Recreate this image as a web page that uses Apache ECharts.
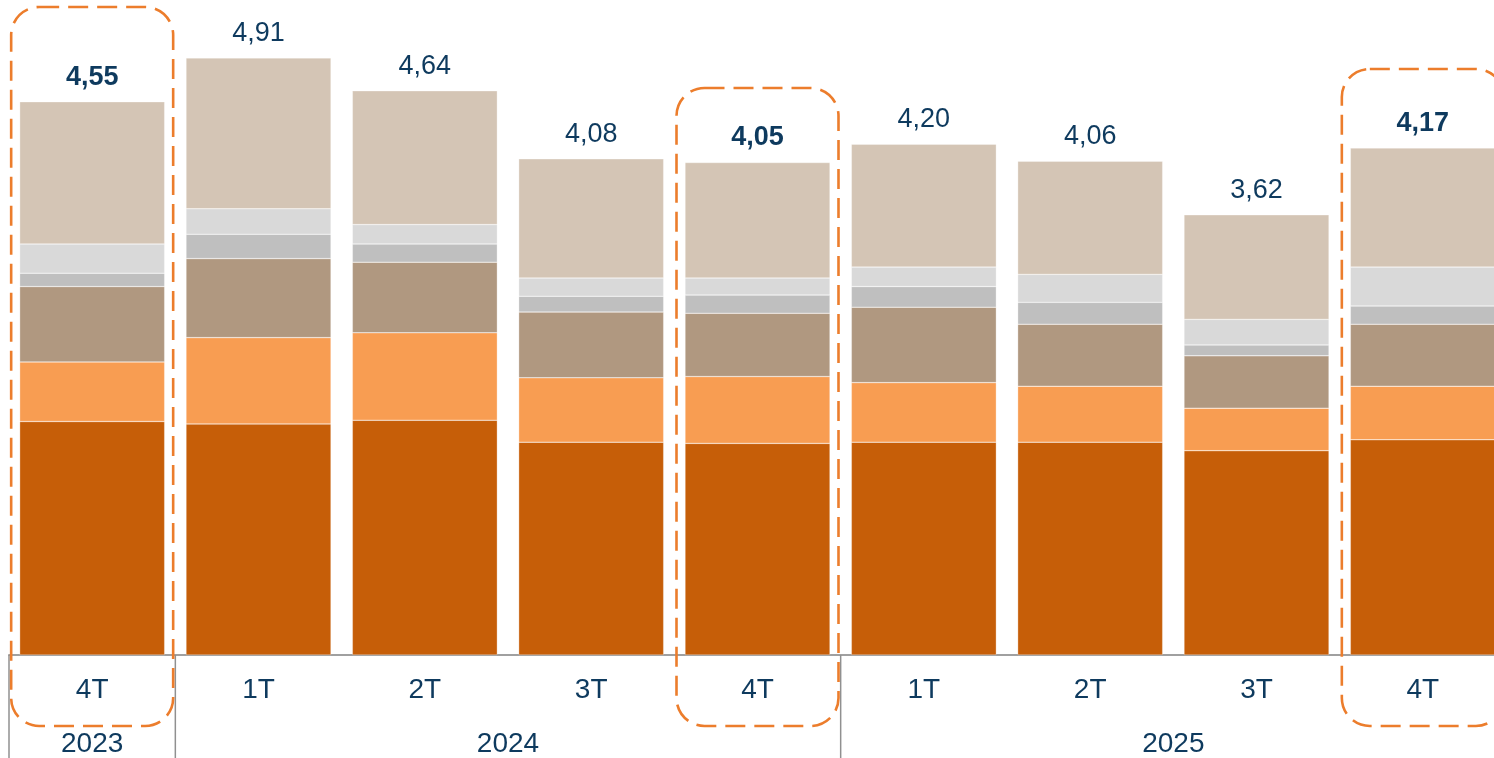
<!DOCTYPE html>
<html>
<head>
<meta charset="utf-8">
<script src="https://cdn.jsdelivr.net/npm/echarts@6/dist/echarts.min.js"></script>
<style>
  html, body { margin: 0; padding: 0; background: #fff; overflow: hidden; }
  /* a bit wider than the window: the last bar is cut at the right edge */
  #chart { width: 1506px; height: 758px; }
</style>
</head>
<body>
<div id="chart"></div>
<script>
// quarters along the axis, years grouped underneath
const quarters = ["4T", "1T", "2T", "3T", "4T", "1T", "2T", "3T", "4T"];
const years = ["2023", "2024", "2025"];
const yearFirst = [0, 1, 5];
const yearLast = [0, 4, 8];

// stacked segments, bottom to top
const seg1 = [1.92, 1.90, 1.93, 1.75, 1.74, 1.75, 1.75, 1.68, 1.77];
const seg2 = [0.49, 0.71, 0.72, 0.53, 0.55, 0.49, 0.46, 0.35, 0.44];
const seg3 = [0.62, 0.65, 0.58, 0.54, 0.52, 0.62, 0.51, 0.43, 0.51];
const seg4 = [0.11, 0.20, 0.15, 0.13, 0.15, 0.17, 0.18, 0.09, 0.15];
const seg5 = [0.24, 0.21, 0.16, 0.15, 0.14, 0.16, 0.23, 0.21, 0.32];
const seg6 = [1.17, 1.24, 1.10, 0.98, 0.95, 1.01, 0.93, 0.86, 0.98];
const totals = [4.55, 4.91, 4.64, 4.08, 4.05, 4.20, 4.06, 3.62, 4.17];

// bars framed by the dashed boxes (labels shown in bold)
const highlighted = [0, 4, 8];

const FONT = 'Arial, "Liberation Sans", sans-serif';
const NAVY = "#0E3A5E";
const colors = ["#C65E08", "#F89D52", "#B09880", "#BFBFBF", "#D9D9D9", "#D4C5B5"];
const boxTop = { 0: 7, 4: 88, 8: 69 };

const chart = echarts.init(document.getElementById("chart"));

const segs = [seg1, seg2, seg3, seg4, seg5, seg6];
const series = segs.map((vals, s) => {
  const isTop = s === segs.length - 1;
  return {
    type: "bar",
    stack: "total",
    barWidth: 145,
    itemStyle: { color: colors[s], borderColor: "rgba(255,255,255,0.6)", borderWidth: 0.5 },
    data: vals.map((v, i) => isTop ? {
      value: v,
      label: { fontWeight: highlighted.includes(i) ? "bold" : "normal" }
    } : v),
    label: isTop ? {
      show: true,
      position: "top",
      distance: 11,
      fontSize: 27,
      fontFamily: FONT,
      color: NAVY,
      formatter: p => totals[p.dataIndex].toFixed(2).replace(".", ",")
    } : { show: false },
    emphasis: { disabled: true },
    animation: false
  };
});

chart.setOption({
  animation: false,
  grid: { left: 9, right: 0, top: 47, bottom: 103, outerBoundsMode: "none" },
  xAxis: {
    type: "category",
    data: quarters,
    axisLine: { lineStyle: { color: "#A0A0A0", width: 2 } },
    axisTick: { show: false },
    axisLabel: { fontSize: 28, fontFamily: FONT, color: NAVY, margin: 21 }
  },
  yAxis: { type: "value", min: 0, max: 5, show: false },
  series: series
});

// year labels, group separators and dashed highlight boxes
const px = i => chart.convertToPixel({ xAxisIndex: 0 }, i);
const catW = px(1) - px(0);
const axisY = chart.convertToPixel({ yAxisIndex: 0 }, 0);
const graphic = [];

years.forEach((y, k) => {
  const left = px(yearFirst[k]) - catW / 2;
  graphic.push({
    type: "line",
    shape: { x1: left, y1: axisY, x2: left, y2: 758 },
    style: { stroke: "#909090", lineWidth: 1.5 },
    z: 50
  });
  graphic.push({
    type: "text",
    x: (px(yearFirst[k]) + px(yearLast[k])) / 2,
    y: 744,
    style: { text: y, fontSize: 28, fontFamily: FONT, fill: NAVY, align: "center", verticalAlign: "middle" },
    z: 50
  });
});

highlighted.forEach(i => {
  const cx = px(i);
  graphic.push({
    type: "rect",
    shape: { x: cx - 81, y: boxTop[i], width: 162, height: 726 - boxTop[i], r: 28 },
    style: { fill: "none", stroke: "#EC7D2C", lineWidth: 2.6, lineDash: [20, 9] },
    z: 100
  });
});

chart.setOption({ graphic: graphic });
</script>
</body>
</html>
